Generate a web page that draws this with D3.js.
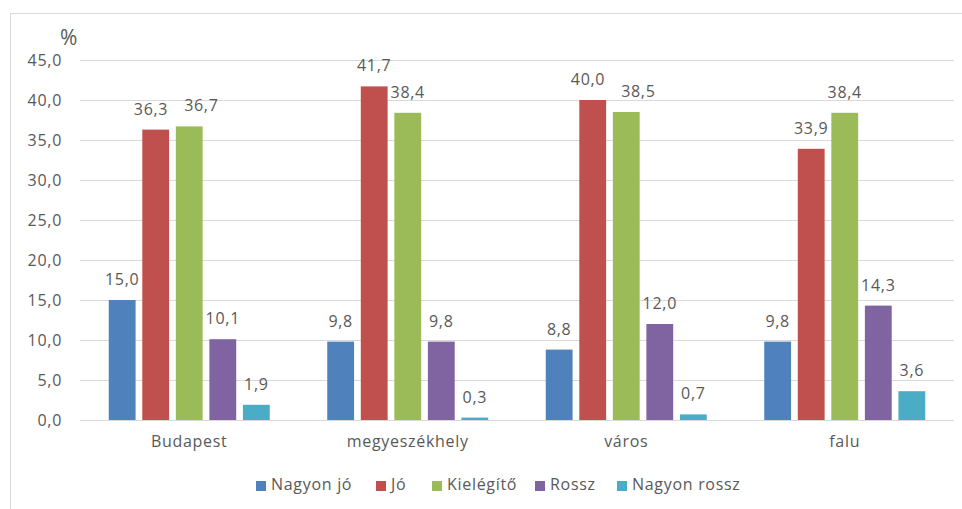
<!DOCTYPE html>
<html>
<head>
<meta charset="utf-8">
<script src="https://cdn.jsdelivr.net/npm/d3@7"></script>
<style>
  html, body { margin: 0; padding: 0; background: #fff; }
  svg { display: block; }
  text { font-family: "Open Sans", "Noto Sans", sans-serif; fill: #595959; letter-spacing: 0.7px; }
</style>
</head>
<body>
<svg id="chart" width="962" height="509"></svg>
<script>
// Settlement types on the x axis
const categories = ["Budapest", "megyeszékhely", "város", "falu"];
// Rating series (legend order)
const seriesNames = ["Nagyon jó", "Jó", "Kielégítő", "Rossz", "Nagyon rossz"];
const seriesColors = ["#4F81BD", "#C0504D", "#9BBB59", "#8064A2", "#4BACC6"];
// Percentages per category, one array per series
const nagyonJo    = [15.0, 9.8, 8.8, 9.8];
const jo          = [36.3, 41.7, 40.0, 33.9];
const kielegito   = [36.7, 38.4, 38.5, 38.4];
const rossz       = [10.1, 9.8, 12.0, 14.3];
const nagyonRossz = [1.9, 0.3, 0.7, 3.6];
const seriesValues = [nagyonJo, jo, kielegito, rossz, nagyonRossz];
// Y axis ticks
const yTicks = [0, 5, 10, 15, 20, 25, 30, 35, 40, 45];

const fmt = v => v.toFixed(1).replace(".", ",");
const FONT = "'Open Sans', 'Noto Sans', sans-serif";
const FS = 16;

const svg = d3.select("#chart");

// Chart frame
svg.append("rect")
  .attr("x", 10.5).attr("y", 13.5)
  .attr("width", 960).attr("height", 500)
  .attr("fill", "none").attr("stroke", "#D9D9D9").attr("stroke-width", 1);

const plot = { left: 80, right: 954, top: 60, bottom: 420 };

const y = d3.scaleLinear().domain([0, 45]).range([plot.bottom, plot.top]);
const x0 = d3.scaleBand().domain(categories).range([plot.left, plot.right]).padding(0);
const x1 = d3.scaleBand().domain(seriesNames).range([0, x0.bandwidth()])
  .paddingInner(0.2).paddingOuter(0.857);

// Gridlines
svg.append("g").selectAll("line").data(yTicks).join("line")
  .attr("x1", plot.left).attr("x2", plot.right)
  .attr("y1", d => Math.round(y(d)) + 0.5).attr("y2", d => Math.round(y(d)) + 0.5)
  .attr("stroke", "#D9D9D9").attr("stroke-width", 1);

// Y axis labels
const yAxis = d3.axisLeft(y).tickValues(yTicks).tickFormat(fmt).tickSize(0).tickPadding(0);
const yg = svg.append("g").attr("transform", `translate(${plot.left - 18},0)`).call(yAxis);
yg.select(".domain").remove();
yg.selectAll("text").attr("font-size", FS).attr("fill", "#595959")
  .style("font-family", FONT).style("letter-spacing", "0.7px");

// Unit label
svg.append("text").attr("x", 60).attr("y", 45).attr("font-size", 21).text("%");

// Bars and value labels
const groups = svg.append("g").selectAll("g").data(categories).join("g")
  .attr("transform", d => `translate(${x0(d)},0)`);

const rows = ci => seriesNames.map((s, si) => ({ s, si, v: seriesValues[si][ci] }));

groups.each(function(c, ci) {
  const g = d3.select(this);
  const data = rows(ci);
  g.selectAll("rect").data(data).join("rect")
    .attr("x", d => x1(d.s))
    .attr("y", d => y(d.v))
    .attr("width", x1.bandwidth())
    .attr("height", d => y(0) - y(d.v))
    .attr("fill", d => seriesColors[d.si]);
  const labels = g.selectAll("text.val").data(data).join("text")
    .attr("class", "val")
    .attr("x", d => x1(d.s) + x1.bandwidth() / 2)
    .attr("y", d => y(d.v) - 15)
    .attr("text-anchor", "middle")
    .attr("font-size", FS)
    .text(d => fmt(d.v));

  // Nudge neighbouring labels apart when they sit at nearly the same height
  const nodes = labels.nodes();
  for (let i = 0; i < nodes.length - 1; i++) {
    const a = nodes[i].getBBox(), b = nodes[i + 1].getBBox();
    const sameRow = Math.abs(a.y - b.y) < a.height * 0.6;
    const gap = b.x - (a.x + a.width);
    const minGap = 16;
    if (sameRow && gap < minGap) {
      const need = minGap - gap;
      d3.select(nodes[i]).attr("x", +nodes[i].getAttribute("x") - need * 0.28);
      d3.select(nodes[i + 1]).attr("x", +nodes[i + 1].getAttribute("x") + need * 0.72);
    }
  }
});

// Category labels
const xAxis = d3.axisBottom(x0).tickSize(0).tickPadding(0);
const xg = svg.append("g").attr("transform", `translate(0,${plot.bottom + 16})`).call(xAxis);
xg.select(".domain").remove();
xg.selectAll("text").attr("font-size", FS).attr("fill", "#595959")
  .style("font-family", FONT).style("letter-spacing", "0.7px");

// Legend
const legendX = [256, 376, 432, 535, 617];
const legend = svg.append("g").selectAll("g").data(seriesNames).join("g")
  .attr("transform", (d, i) => `translate(${legendX[i]},486)`);
legend.append("rect").attr("x", 0).attr("y", -5).attr("width", 10).attr("height", 10)
  .attr("fill", (d, i) => seriesColors[i]);
legend.append("text").attr("x", 15).attr("y", 4).attr("font-size", FS).text(d => d);
</script>
</body>
</html>
